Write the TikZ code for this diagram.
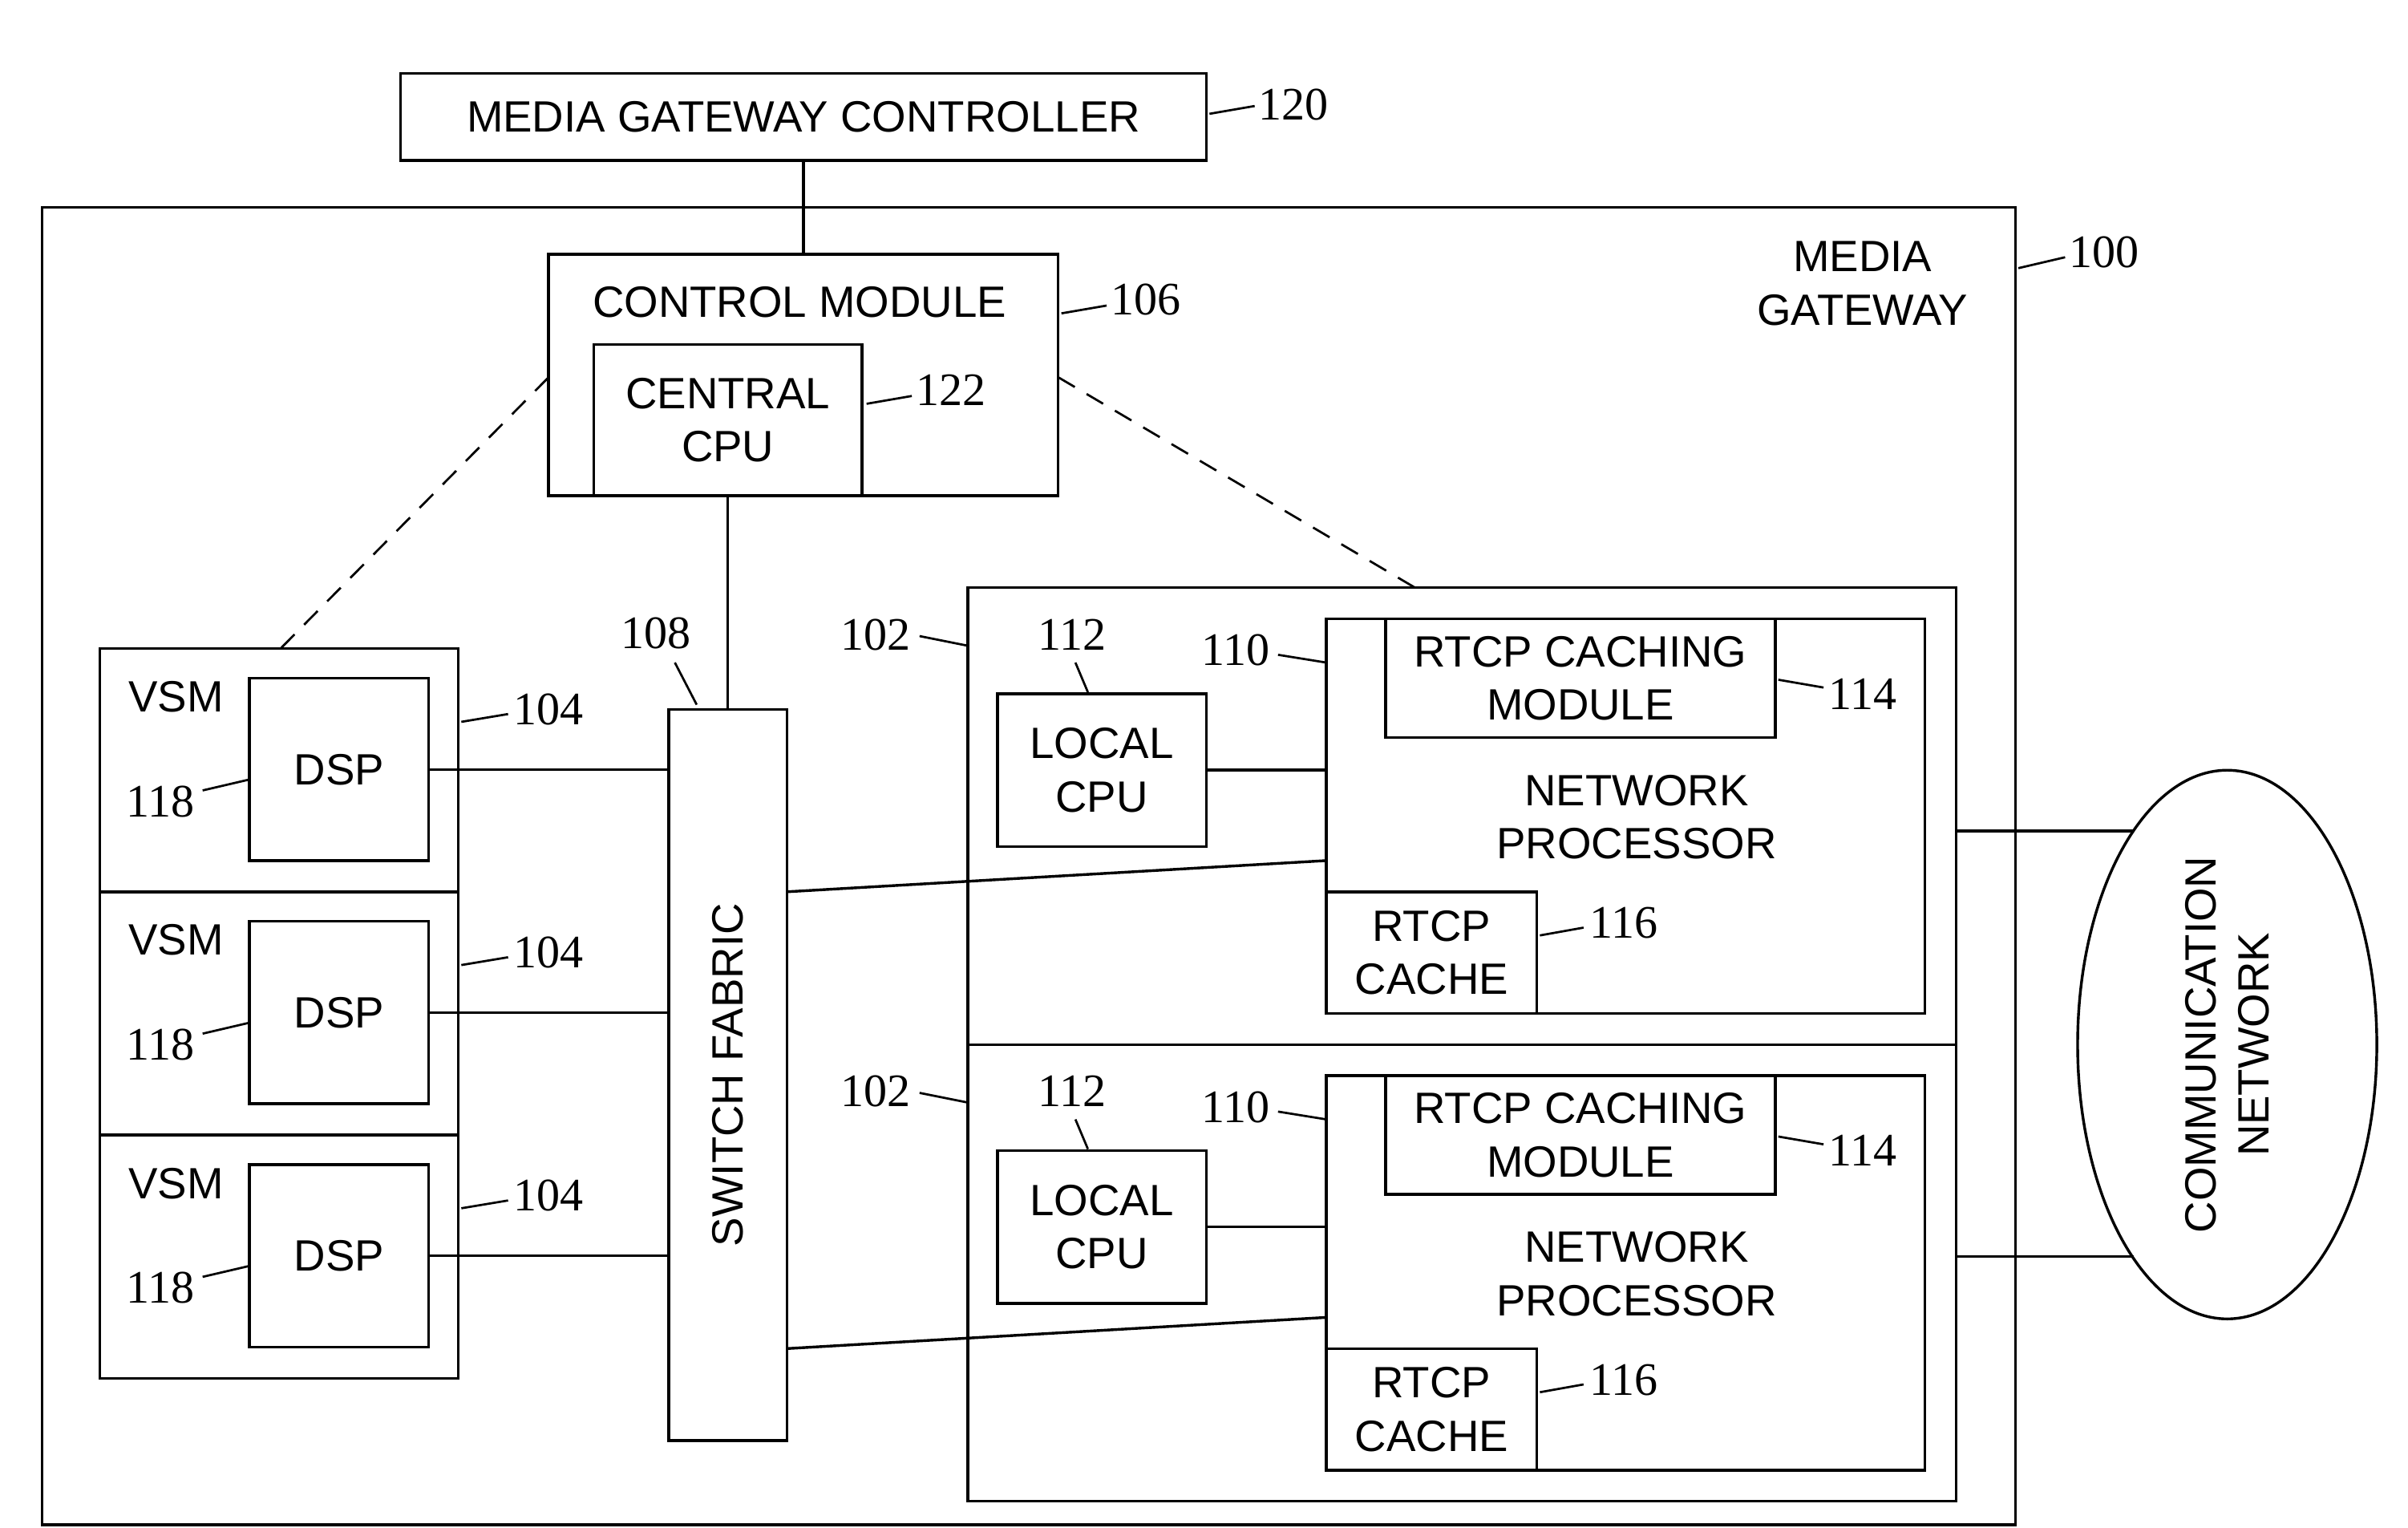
\documentclass[tikz,border=0pt]{standalone}
\usepackage{fontspec}
\setmainfont{Liberation Sans}
\newfontfamily\numfont{Liberation Serif}
\usetikzlibrary{fit,positioning,shapes.geometric}
\tikzset{
  box/.style={draw, line width=1pt, inner sep=0pt},
  txt/.style={font=\fontsize{16}{19.5}\selectfont, align=center},
  num/.style={font=\numfont\fontsize{17}{20}\selectfont},
  lead/.style={line width=0.8pt},
  wire/.style={line width=1pt},
  dashline/.style={line width=0.8pt, dash pattern=on 7pt off 5pt}
}
% block from corner to corner, in picture pixels
\newcommand\blk[5]{\path (#2,#3) coordinate (#1-nw) (#4,#5) coordinate (#1-se);
  \node[box, fit=(#1-nw)(#1-se)] (#1) {};}
% reference number with a short leader line
\newcommand\refnum[6]{\node[num] (#1) at (#2,#3) {#4};
  \draw[lead] (#5) -- (#6);}
\begin{document}
\begin{tikzpicture}[x=0.02cm, y=-0.02cm]
\useasboundingbox (0,0) rectangle (1545,980);
% gateway and controller
\blk{mgc}{257}{47}{774}{103}
\node[txt] at (mgc) {MEDIA GATEWAY CONTROLLER};
\blk{mg}{27}{133}{1293}{978}
\node[txt] at (1195,182) {MEDIA\\GATEWAY};
\blk{cm}{352}{163}{679}{318}
\node[txt] at (513,194) {CONTROL MODULE};
\blk{cpu}{381}{221}{553}{318}
\node[txt] at (cpu) {CENTRAL\\CPU};
\blk{sf}{429}{455}{505}{924}
\node[txt, rotate=90] at (sf) {SWITCH FABRIC};
\draw[wire] (mgc.south) -- (cm.north);
\draw[wire] (cpu.south) -- (cpu.south |- sf.north);
\refnum{n120}{830}{67}{120}{776,73}{805,68}
\refnum{n100}{1350}{162}{100}{1295,172}{1325,165}
\refnum{n106}{735}{192}{106}{681,201}{710,196}
\refnum{n122}{610}{250}{122}{556,259}{585,254}
\refnum{n108}{421}{406}{108}{433,425}{447,452}
% voice service modules
\foreach \i/\y in {1/416, 2/572, 3/728} {
  \blk{vsm\i}{64}{\y}{294}{\y+156}
  \node[txt] at (113,\y+31) {VSM};
  \blk{dsp\i}{160}{\y+19}{275}{\y+136}
  \node[txt] at (dsp\i) {DSP};
  \draw[wire] (dsp\i.east) -- (dsp\i.east -| sf.west);
  \refnum{n118\i}{103}{\y+98}{118}{130,\y+91}{160,\y+84}
  \refnum{n104\i}{352}{\y+39}{104}{296,\y+47}{326,\y+42}
}
\draw[dashline] (352,242) -- (180,416);
% line cards
\foreach \i/\d in {1/0, 2/293} {
  \blk{lc\i}{621}{377+\d}{1255}{670+\d}
  \blk{lcpu\i}{640}{445+\d}{774}{543+\d}
  \node[txt] at (lcpu\i) {LOCAL\\CPU};
  \blk{np\i}{851}{397+\d}{1235}{650+\d}
  \blk{rcm\i}{889}{397+\d}{1139}{473+\d}
  \node[txt] at (rcm\i) {RTCP CACHING\\MODULE};
  \node[txt] at (1050,524+\d) {NETWORK\\PROCESSOR};
  \blk{rc\i}{851}{572+\d}{986}{650+\d}
  \node[txt] at (rc\i) {RTCP\\CACHE};
  \draw[wire] (lcpu\i.east) -- (lcpu\i.east -| np\i.west);
  \draw[wire] (505,572+\d) -- (851,552+\d);
  \refnum{n102\i}{562}{407+\d}{102}{590,408+\d}{620,414+\d}
  \refnum{n112\i}{688}{407+\d}{112}{690,425+\d}{698,444+\d}
  \refnum{n110\i}{793}{417+\d}{110}{820,420+\d}{851,425+\d}
  \refnum{n114\i}{1195}{445+\d}{114}{1141,436+\d}{1170,441+\d}
  \refnum{n116\i}{1042}{592+\d}{116}{988,600+\d}{1016,595+\d}
}
\draw[dashline] (679,242) -- (908,377);
% network
\node[draw, line width=1pt, ellipse, minimum width=3.84cm, minimum height=7.04cm, inner sep=0pt] (net) at (1429,670) {};
\node[txt, rotate=90] at (net) {COMMUNICATION\\NETWORK};
\draw[wire] (lc1.east |- 0,533) -- (1369,533);
\draw[wire] (lc2.east |- 0,806) -- (1369,806);
\end{tikzpicture}
\end{document}
